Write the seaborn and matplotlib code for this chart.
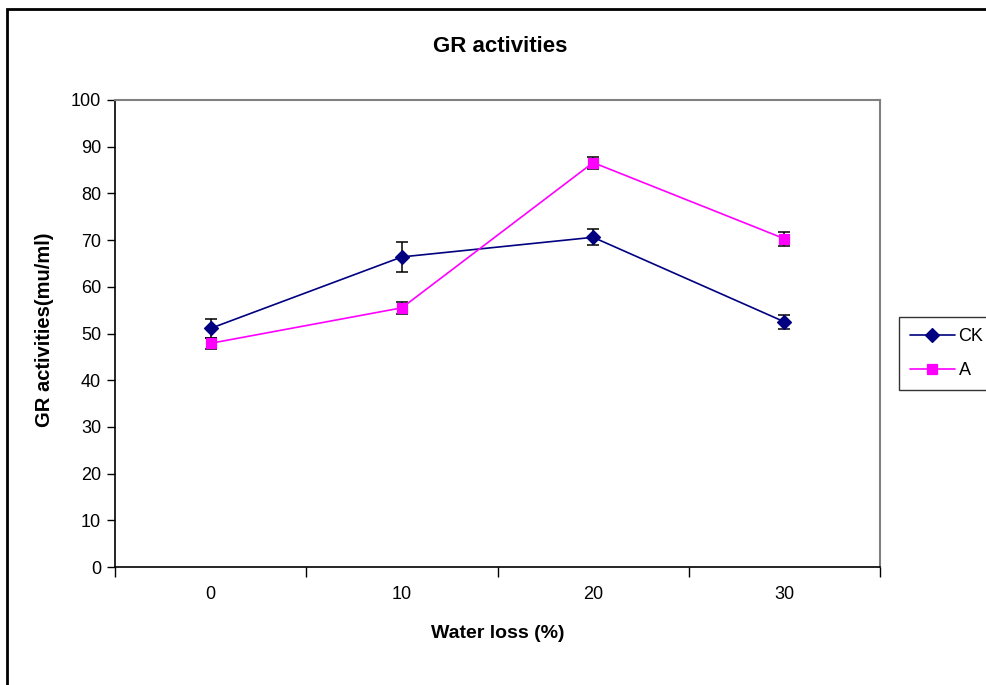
import pandas as pd
import numpy as np
import matplotlib.pyplot as plt
import seaborn as sns
from matplotlib.patches import Rectangle

water_loss = ['0', '10', '20', '30']
ck = [51.1, 66.4, 70.6, 52.5]
ck_err = [2.0, 3.3, 1.7, 1.5]
a_vals = [47.9, 55.5, 86.6, 70.3]
a_err = [1.2, 1.3, 1.3, 1.5]
series = ['CK', 'A']
colors = ['#000080', '#FF00FF']

df = pd.DataFrame({
    'Water loss': water_loss * 2,
    'GR': ck + a_vals,
    'group': ['CK'] * 4 + ['A'] * 4,
})

sns.set_style('white')
plt.rcParams['font.family'] = ['Liberation Sans', 'DejaVu Sans']
plt.rcParams['text.color'] = 'black'
plt.rcParams['xtick.color'] = 'black'
plt.rcParams['ytick.color'] = 'black'

fig = plt.figure(figsize=(9.87, 6.85), dpi=100)
ax = fig.add_axes([115/987, 1-567/685, (880-115)/987, (567-100)/685])

# error bars first so the markers sit on top
pos = np.arange(len(water_loss))
ax.errorbar(pos, ck, yerr=ck_err, fmt='none', ecolor='black', elinewidth=1.1, capsize=4.5, capthick=1.1, zorder=2)
ax.errorbar(pos, a_vals, yerr=a_err, fmt='none', ecolor='black', elinewidth=1.1, capsize=4.5, capthick=1.1, zorder=2)

sns.pointplot(data=df, x='Water loss', y='GR', hue='group', hue_order=series, order=water_loss,
              palette=colors, markers=['D', 's'], linestyles=['-', '-'], errorbar=None,
              markersize=7, linewidth=1.2, ax=ax, zorder=3)

ax.set_xlim(-0.5, 3.5)
ax.set_ylim(0, 100)
ax.set_yticks(range(0, 101, 10))
ax.set_xticks(np.arange(-0.5, 3.6, 1), minor=False)
ax.set_xticklabels([''] * 5)
ax.set_xticks(pos, minor=True)
ax.set_xticklabels(water_loss, minor=True)
ax.tick_params(axis='x', which='major', direction='out', length=7, width=1, color='black', bottom=True)
ax.tick_params(axis='x', which='minor', length=0, pad=14, labelsize=13, labelcolor='black')
ax.tick_params(axis='y', direction='out', length=6, width=1, color='black', left=True, pad=4,
               labelsize=13, labelcolor='black')

for side in ['left', 'bottom']:
    ax.spines[side].set_color('black')
    ax.spines[side].set_linewidth(1.2)
for side in ['top', 'right']:
    ax.spines[side].set_color('#808080')
    ax.spines[side].set_linewidth(1.5)

ax.set_xlabel('')
ax.set_ylabel('')
fig.text(500/987, 1-47/685, 'GR activities', ha='center', va='center', fontsize=16, fontweight='bold')
fig.text(498/987, 1-634/685, 'Water loss (%)', ha='center', va='center', fontsize=14, fontweight='bold')
fig.text(45/987, 1-330/685, 'GR activities(mu/ml)', ha='center', va='center', rotation=90, fontsize=14.5, fontweight='bold')

handles, labels = ax.get_legend_handles_labels()
ax.get_legend().remove()
leg = fig.legend(handles, labels, loc='upper left', bbox_to_anchor=(899/987, 1-317/685),
                 frameon=True, fancybox=False, fontsize=13, handlelength=2.5, handletextpad=0.2,
                 borderpad=0.6, labelspacing=0.95, borderaxespad=0)
leg.get_frame().set_edgecolor('black')
leg.get_frame().set_linewidth(1)

# outer chart frame, cut off on the right and bottom like the original
fig.patches.append(Rectangle((7/987, -0.05), 1.1, 1-9/685+0.05, transform=fig.transFigure,
                             fill=False, edgecolor='black', linewidth=2, clip_on=False))

fig.savefig('out.png', dpi=100)
